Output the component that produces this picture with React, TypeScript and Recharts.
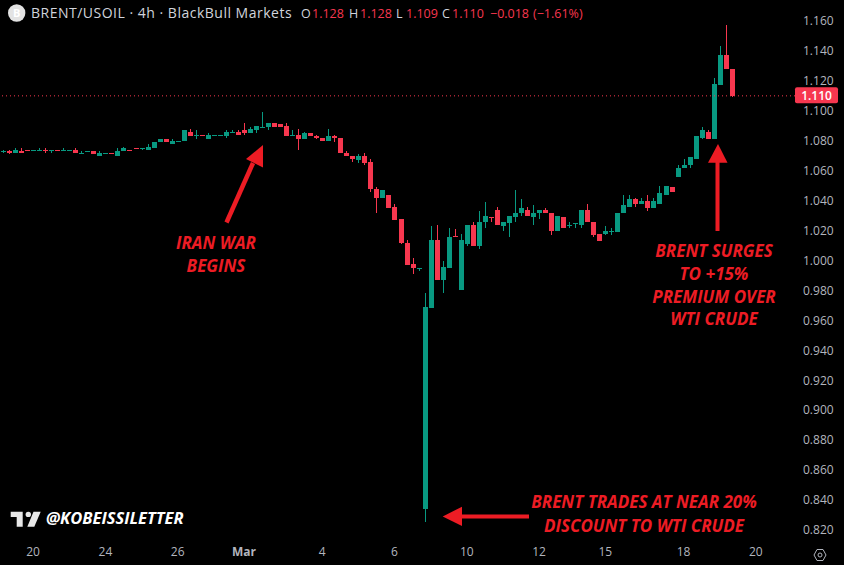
import React from 'react';
import { BarChart, Bar, XAxis, YAxis, ReferenceLine } from 'recharts';

const opens = [
  1.073, 1.073, 1.072, 1.073, 1.074, 1.073, 1.074, 1.0741, 1.074, 1.074,
  1.073, 1.074, 1.074, 1.072, 1.073, 1.073, 1.07, 1.072, 1.072, 1.07,
  1.073, 1.0741, 1.0751, 1.075, 1.074, 1.075, 1.079, 1.081, 1.078, 1.08,
  1.08, 1.086, 1.083, 1.084, 1.081, 1.084, 1.084, 1.083, 1.085, 1.086,
  1.087, 1.085, 1.087, 1.089, 1.089, 1.092, 1.091, 1.09, 1.084, 1.084,
  1.081, 1.085, 1.083, 1.082, 1.08, 1.083, 1.082, 1.072, 1.07, 1.067,
  1.07, 1.066, 1.048, 1.042, 1.044, 1.036, 1.028, 1.012, 0.998, 0.995,
  0.834, 0.968, 1.014, 0.987, 0.995, 1.0161, 0.98, 1.011, 1.024, 1.01,
  1.026, 1.0291, 1.034, 1.023, 1.025, 1.029, 1.032, 1.034, 1.029, 1.032,
  1.034, 1.032, 1.02, 1.029, 1.024, 1.025, 1.024, 1.034, 1.026, 1.018,
  1.018, 1.019, 1.019, 1.032, 1.036, 1.041, 1.038, 1.04, 1.035, 1.038,
  1.044, 1.049, 1.056, 1.062, 1.064, 1.068, 1.082, 1.086, 1.081, 1.117, 1.137, 1.128,
];
const closes = [
  1.073, 1.072, 1.074, 1.072, 1.073, 1.074, 1.074, 1.074, 1.074, 1.073,
  1.074, 1.074, 1.072, 1.072, 1.073, 1.071, 1.072, 1.072, 1.071, 1.073,
  1.075, 1.074, 1.075, 1.075, 1.076, 1.079, 1.081, 1.079, 1.08, 1.08,
  1.087, 1.083, 1.084, 1.083, 1.084, 1.084, 1.084, 1.086, 1.086, 1.084,
  1.085, 1.088, 1.09, 1.089, 1.092, 1.089, 1.089, 1.083, 1.084, 1.081,
  1.085, 1.083, 1.082, 1.08, 1.083, 1.082, 1.072, 1.07, 1.068, 1.07,
  1.065, 1.048, 1.042, 1.047, 1.035, 1.027, 1.012, 0.997, 0.995, 0.995,
  0.969, 1.014, 0.987, 0.996, 1.016, 1.016, 1.014, 1.024, 1.01, 1.026,
  1.03, 1.029, 1.024, 1.026, 1.03, 1.032, 1.035, 1.03, 1.032, 1.034,
  1.032, 1.02, 1.03, 1.022, 1.024, 1.025, 1.034, 1.026, 1.017, 1.013,
  1.02, 1.02, 1.032, 1.037, 1.041, 1.038, 1.04, 1.035, 1.04, 1.045,
  1.05, 1.046, 1.062, 1.064, 1.069, 1.083, 1.087, 1.081, 1.118, 1.137, 1.128, 1.11,
];
const highs = [
  1.074, 1.074, 1.075, 1.075, 1.074, 1.074, 1.075, 1.075, 1.074, 1.074,
  1.075, 1.074, 1.075, 1.073, 1.073, 1.073, 1.073, 1.072, 1.072, 1.075,
  1.076, 1.0741, 1.0751, 1.075, 1.078, 1.079, 1.081, 1.081, 1.081, 1.08,
  1.087, 1.088, 1.087, 1.084, 1.085, 1.084, 1.084, 1.087, 1.087, 1.087,
  1.092, 1.089, 1.09, 1.099, 1.092, 1.092, 1.091, 1.092, 1.087, 1.088,
  1.086, 1.085, 1.084, 1.082, 1.088, 1.084, 1.082, 1.073, 1.07, 1.071,
  1.072, 1.068, 1.049, 1.047, 1.044, 1.038, 1.028, 1.014, 1.002, 0.995,
  0.978, 1.023, 1.024, 1.0, 1.022, 1.021, 1.018, 1.024, 1.026, 1.033,
  1.039, 1.0291, 1.036, 1.026, 1.03, 1.047, 1.041, 1.036, 1.037, 1.034,
  1.035, 1.032, 1.03, 1.029, 1.026, 1.025, 1.034, 1.038, 1.026, 1.018,
  1.023, 1.022, 1.032, 1.044, 1.044, 1.042, 1.042, 1.044, 1.042, 1.05,
  1.05, 1.049, 1.064, 1.068, 1.069, 1.083, 1.089, 1.087, 1.122, 1.143, 1.157, 1.128,
];
const lows = [
  1.072, 1.071, 1.072, 1.072, 1.073, 1.073, 1.073, 1.072, 1.072, 1.073,
  1.073, 1.074, 1.072, 1.071, 1.073, 1.071, 1.07, 1.072, 1.071, 1.07,
  1.073, 1.074, 1.075, 1.074, 1.074, 1.075, 1.079, 1.079, 1.078, 1.08,
  1.08, 1.083, 1.081, 1.083, 1.081, 1.083, 1.083, 1.082, 1.085, 1.084,
  1.084, 1.085, 1.085, 1.089, 1.087, 1.089, 1.089, 1.083, 1.083, 1.074,
  1.081, 1.083, 1.081, 1.08, 1.08, 1.079, 1.072, 1.07, 1.066, 1.065,
  1.064, 1.046, 1.032, 1.042, 1.035, 1.027, 1.011, 0.997, 0.991, 0.993,
  0.825, 0.968, 0.987, 0.978, 0.995, 1.016, 0.98, 1.01, 1.01, 1.008,
  1.022, 1.026, 1.024, 1.02, 1.016, 1.026, 1.03, 1.03, 1.024, 1.028,
  1.032, 1.017, 1.02, 1.022, 1.022, 1.022, 1.022, 1.026, 1.016, 1.013,
  1.017, 1.017, 1.019, 1.032, 1.036, 1.036, 1.038, 1.033, 1.035, 1.038,
  1.044, 1.046, 1.056, 1.062, 1.062, 1.068, 1.081, 1.081, 1.081, 1.117, 1.128, 1.109,
];

// empty slots on the right of the last candle
const SLOTS = 132;
const LAST_PRICE = 1.11;

const priceTicks = [
  0.82, 0.84, 0.86, 0.88, 0.9, 0.92, 0.94, 0.96, 0.98, 1.0, 1.02, 1.04, 1.06, 1.08, 1.1, 1.12, 1.14, 1.16,
];
const dateTickSlots = [5, 17, 29, 40, 53, 65, 77, 89, 100, 113, 125];
const dateTickLabels = ['20', '24', '26', 'Mar', '4', '6', '10', '12', '15', '18', '20'];

const UP = '#089981';
const DOWN = '#f7374f';
const ANNOTATION = '#ed1c24';
const AXIS_TEXT = '#b2b5be';
const FONT = '"Open Sans", sans-serif';

const rows = Array.from({ length: SLOTS }, (_, i) => ({
  slot: i,
  open: opens[i] ?? null,
  high: highs[i] ?? null,
  low: lows[i] ?? null,
  close: closes[i] ?? null,
}));

const bodyRange = (d: any) => (d.open == null ? null : [Math.min(d.open, d.close), Math.max(d.open, d.close)]);
const wickRange = (d: any) => (d.low == null ? null : [d.low, d.high]);

// snap to whole pixels so candles stay crisp like the original
const CandleRect = ({ x, y, width, height, payload, barW }: any) => {
  if (!payload || payload.open == null) return null;
  const center = Math.floor(x + width / 2);
  const top = Math.round(y);
  const h = Math.max(1, Math.round(y + height) - top);
  return (
    <rect
      x={center - (barW - 1) / 2}
      y={top}
      width={barW}
      height={h}
      fill={payload.close >= payload.open ? UP : DOWN}
    />
  );
};

const DateTick = ({ x, y, payload }: any) => {
  const label = dateTickLabels[dateTickSlots.indexOf(payload.value)];
  return (
    <text
      x={x}
      y={y}
      dy={11}
      textAnchor="middle"
      fill={AXIS_TEXT}
      fontFamily={FONT}
      fontSize={12}
      fontWeight={label === 'Mar' ? 700 : 400}
    >
      {label}
    </text>
  );
};

const PriceTag = ({ viewBox }: any) => {
  const right = viewBox.x + viewBox.width;
  return (
    <g>
      <rect x={right} y={viewBox.y - 8.5} width={43} height={16} rx={2} fill={DOWN} />
      <text x={right + 21.5} y={viewBox.y + 4} textAnchor="middle" fill="#fff" fontFamily={FONT} fontSize={12} fontWeight={600}>
        {LAST_PRICE.toFixed(3)}
      </text>
    </g>
  );
};

const Note = ({ lines, x, y }: { lines: string[]; x: number; y: number[] }) => (
  <text textAnchor="middle" fill={ANNOTATION} fontFamily={FONT} fontSize={17} fontWeight={700} fontStyle="italic">
    {lines.map((l, i) => (
      <tspan key={l} x={x} y={y[i]}>
        {l}
      </tspan>
    ))}
  </text>
);

const Overlay = () => (
  <svg width={844} height={565} style={{ position: 'absolute', left: 0, top: 0, pointerEvents: 'none' }}>
    {/* header */}
    <circle cx={16.7} cy={13} r={8.7} fill="#e3e3e3" />
    <text x={16.7} y={17} textAnchor="middle" fontFamily={FONT} fontSize={11} fontWeight={700} fill="#fff">
      B
    </text>
    <text x={31} y={18} fontFamily={FONT} fontSize={14} letterSpacing={0.5} fill="#d1d4dc">
      BRENT/USOIL · 4h · BlackBull Markets
    </text>
    <text y={18} fontFamily={FONT} fontSize={12.5} fill={DOWN}>
      <tspan x={301} fill="#d1d4dc">O</tspan>
      <tspan x={312}>1.128</tspan>
      <tspan x={349} fill="#d1d4dc">H</tspan>
      <tspan x={360}>1.128</tspan>
      <tspan x={396} fill="#d1d4dc">L</tspan>
      <tspan x={406}>1.109</tspan>
      <tspan x={442} fill="#d1d4dc">C</tspan>
      <tspan x={452}>1.110</tspan>
      <tspan x={490}>−0.018</tspan>
      <tspan x={533}>(−1.61%)</tspan>
    </text>

    {/* arrows */}
    <line x1={226.5} y1={222.5} x2={253} y2={163} stroke={ANNOTATION} strokeWidth={4.5} />
    <polygon points="263,145 246,159 263,167.5" fill={ANNOTATION} />
    <line x1={717.5} y1={162} x2={717.5} y2={231} stroke={ANNOTATION} strokeWidth={4} />
    <polygon points="718,144 708,162.7 727.5,162.7" fill={ANNOTATION} />
    <line x1={460} y1={516.5} x2={529} y2={516.5} stroke={ANNOTATION} strokeWidth={4} />
    <polygon points="442.7,516.5 462,506.7 462,526" fill={ANNOTATION} />

    <Note lines={['IRAN WAR', 'BEGINS']} x={216} y={[249, 272]} />
    <Note lines={['BRENT SURGES', 'TO +15%', 'PREMIUM OVER', 'WTI CRUDE']} x={714} y={[257, 280, 303, 325]} />
    <Note lines={['BRENT TRADES AT NEAR 20%', 'DISCOUNT TO WTI CRUDE']} x={644} y={[508, 532]} />

    {/* watermark */}
    <path d="M10.7 511.7H22.7V526.7H16.7V517H10.7Z" fill="#e8e8e8" />
    <circle cx={28.3} cy={514.4} r={2.7} fill="#e8e8e8" />
    <path d="M33.5 511.7H40.7L34.3 526.7H27.3Z" fill="#e8e8e8" />
    <text x={46} y={524} fontFamily={FONT} fontSize={16.5} fontWeight={700} fontStyle="italic" fill="#fff">
      @KOBEISSILETTER
    </text>

    {/* settings hexagon */}
    <path d="M814 555L817 549.5H823L826 555L823 560.5H817Z" fill="none" stroke={AXIS_TEXT} strokeWidth={1} />
    <circle cx={820} cy={555} r={2} fill="none" stroke={AXIS_TEXT} strokeWidth={1} />
  </svg>
);

export default function App() {
  return (
    <div style={{ position: 'absolute', left: 0, top: 0, width: 844, height: 565, background: '#000', overflow: 'hidden' }}>
      <BarChart
        width={844}
        height={565}
        data={rows}
        margin={{ top: 0, right: 0, bottom: 0, left: 0 }}
        barCategoryGap={0}
      >
        <XAxis
          xAxisId="main"
          dataKey="slot"
          ticks={dateTickSlots}
          interval={0}
          height={22}
          tickSize={0}
          tickLine={false}
          axisLine={false}
          tick={<DateTick />}
        />
        <XAxis xAxisId="wick" dataKey="slot" hide />
        <YAxis
          orientation="right"
          width={49}
          type="number"
          domain={[0.8113, 1.17403]}
          ticks={priceTicks}
          interval={0}
          tickSize={0}
          tickMargin={8}
          tickLine={false}
          axisLine={false}
          tickFormatter={(v: number) => v.toFixed(3)}
          tick={{ fill: AXIS_TEXT, fontFamily: FONT, fontSize: 12, textAnchor: 'start' }}
        />
        <ReferenceLine
          xAxisId="main"
          y={LAST_PRICE}
          stroke={DOWN}
          strokeDasharray="1 3"
          label={<PriceTag />}
        />
        <Bar
          xAxisId="wick"
          dataKey={wickRange}
          barSize={1}
          isAnimationActive={false}
          shape={<CandleRect barW={1} />}
        />
        <Bar
          xAxisId="main"
          dataKey={bodyRange}
          barSize={5}
          isAnimationActive={false}
          shape={<CandleRect barW={5} />}
        />
      </BarChart>
      <Overlay />
    </div>
  );
}
